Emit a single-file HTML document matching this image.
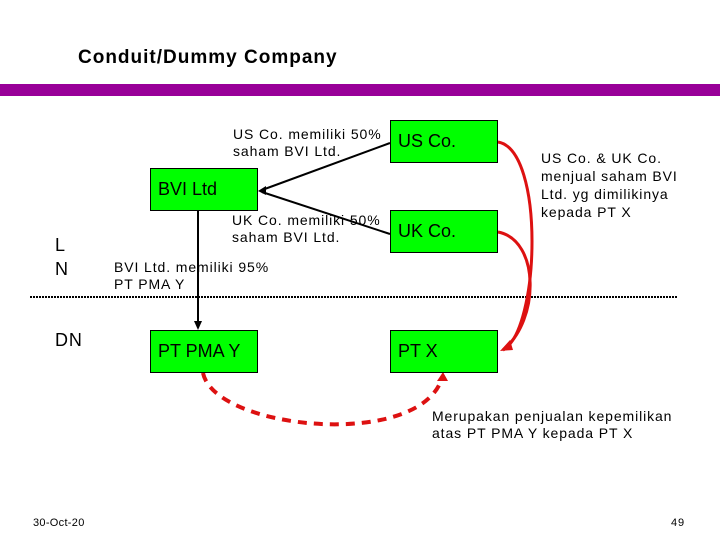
<!DOCTYPE html>
<html><head><style>
body{margin:0;width:720px;height:540px;background:#fff;position:relative;font-family:"Liberation Sans","DejaVu Sans",sans-serif;overflow:hidden}
.t{position:absolute;font-size:14px;line-height:17px;color:#000;white-space:nowrap;letter-spacing:0.9px}
.b{position:absolute;background:#00ff00;border:1px solid #000;box-sizing:border-box;font-size:18px;padding:10px 0 0 7px;height:43px;width:108px}
</style></head><body>
<div class="t" style="left:78px;top:47px;font-size:19px;font-weight:bold;line-height:22px;letter-spacing:1px">Conduit/Dummy Company</div>
<div style="position:absolute;left:0;top:84px;width:720px;height:12px;background:#990099"></div>
<svg style="position:absolute;left:0;top:0" width="720" height="540">
<line x1="30" y1="297" x2="678" y2="297" stroke="#000" stroke-width="2" stroke-dasharray="2,1"/>
<line x1="390" y1="143" x2="262" y2="190" stroke="#000" stroke-width="2"/>
<line x1="390" y1="234" x2="262" y2="192" stroke="#000" stroke-width="2"/>
<polygon points="258,191 266,186 266,195" fill="#000"/>
<line x1="198" y1="210" x2="198" y2="322" stroke="#000" stroke-width="2"/>
<polygon points="194,321 202,321 198,330" fill="#000"/>
<path d="M498,142 C545,150 540,330 503,350" fill="none" stroke="#dd1111" stroke-width="3"/>
<path d="M498,232 C540,240 540,320 503,350" fill="none" stroke="#dd1111" stroke-width="3"/>
<polygon points="500,351 510,340 513,350" fill="#dd1111"/>
<path d="M203,373 C215,430 420,450 442,378" fill="none" stroke="#dd1111" stroke-width="4" stroke-dasharray="9,7"/>
<polygon points="443,372 437,381 448,381" fill="#dd1111"/>
</svg>
<div class="b" style="left:390px;top:120px">US Co.</div>
<div class="b" style="left:150px;top:168px">BVI Ltd</div>
<div class="b" style="left:390px;top:210px">UK Co.</div>
<div class="b" style="left:150px;top:330px">PT PMA Y</div>
<div class="b" style="left:390px;top:330px">PT X</div>
<div class="t" style="left:233px;top:126px">US Co. memiliki 50%<br>saham BVI Ltd.</div>
<div class="t" style="left:232px;top:212px">UK Co. memiliki 50%<br>saham BVI Ltd.</div>
<div class="t" style="left:114px;top:259px">BVI Ltd. memiliki 95%<br>PT PMA Y</div>
<div class="t" style="left:541px;top:149px;line-height:18px">US Co. &amp; UK Co.<br>menjual saham BVI<br>Ltd. yg dimilikinya<br>kepada PT X</div>
<div class="t" style="left:432px;top:408px">Merupakan penjualan kepemilikan<br>atas PT PMA Y kepada PT X</div>
<div class="t" style="left:55px;top:233px;font-size:18px;line-height:24px">L<br>N</div>
<div class="t" style="left:55px;top:332px;font-size:18px">DN</div>
<div class="t" style="left:33px;top:515px;font-size:11px;letter-spacing:0.3px">30-Oct-20</div>
<div class="t" style="left:671px;top:515px;font-size:11px">49</div>
</body></html>
